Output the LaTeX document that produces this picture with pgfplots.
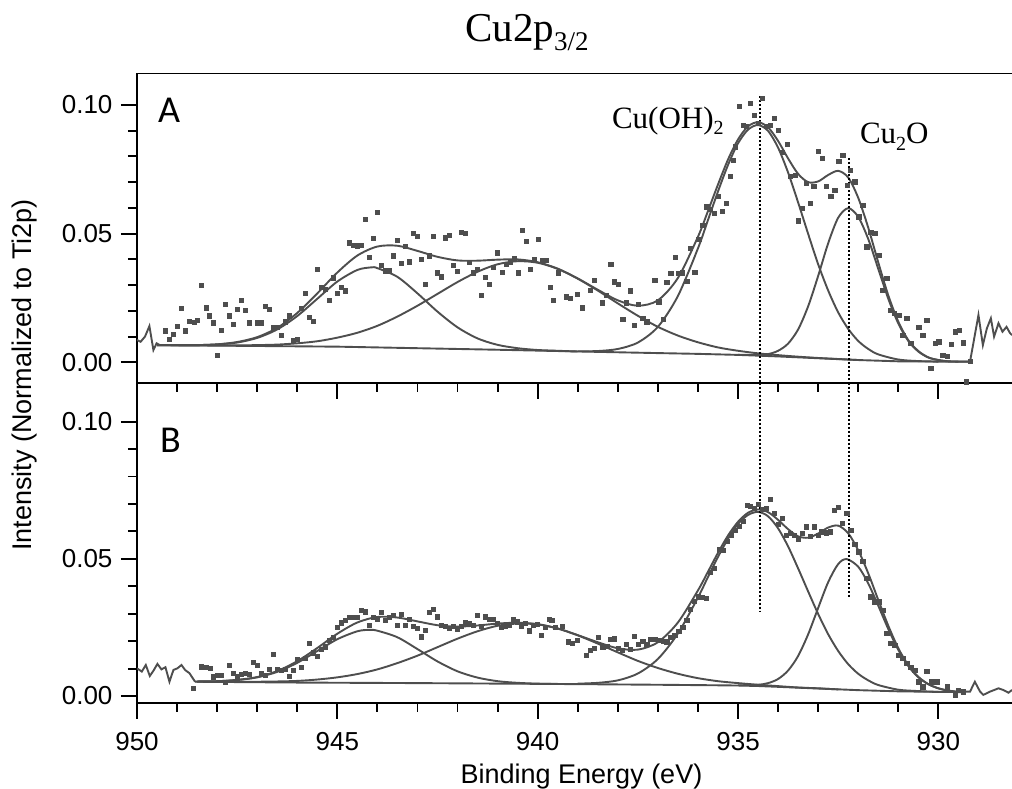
\documentclass[border=0pt]{standalone}
\usepackage{fontspec}
\setmainfont{Liberation Sans}
\newfontfamily\timesf{Liberation Serif}
\newfontfamily\calib{Carlito}
\usepackage{pgfplots}
\pgfplotsset{compat=1.18}
\definecolor{dg}{RGB}{78,78,78}
\begin{document}
\begin{tikzpicture}
\useasboundingbox (0pt,0pt) rectangle (1012pt,789pt);
\pgfplotsset{
  panel/.style={
    scale only axis, width=875pt, x dir=reverse, xmin=928.163, xmax=950,
    axis x line*=bottom, axis y line*=left,
    axis line style={line width=1.9pt, black, -},
    tick align=outside, major tick length=16pt, minor tick length=9pt,
    tick style={line width=1.9pt, black},
    xtick={930,935,940,945,950}, minor x tick num=4,
    ytick={0,0.05,0.1}, minor y tick num=4,
    scaled y ticks=false,
    yticklabel style={/pgf/number format/fixed, /pgf/number format/fixed zerofill, /pgf/number format/precision=2, xshift=-5pt},
    xticklabel style={yshift=-10pt},
    ticklabel style={font=\fontsize{26}{30}\selectfont},
    /pgf/number format/assume math mode=true,
  },
  dat/.style={only marks, mark=square*, mark size=2.1pt, color=dg},
  fit/.style={no marks, line width=1.9pt, color=dg, smooth},
  raw/.style={no marks, line width=1.9pt, color=dg, sharp plot},
  dot/.style={no marks, black, line width=1.9pt, dash pattern=on 2pt off 2pt},
}
% ---------------- Panel A ----------------
\begin{axis}[panel, at={(574.5pt,561pt)}, anchor=center, height=309.4pt,
  ymin=-0.0079, ymax=0.1123, xticklabels={}]
\draw[line width=2.2pt, black] (rel axis cs:0,1) -- (rel axis cs:1,1);
\addplot[raw] coordinates {(950,0.0087)(949.91,0.0080)(949.80,0.0100)(949.69,0.0141)(949.59,0.0048)(949.51,0.0074)(949.43,0.0067)};
\addplot[raw] coordinates {(929.21,0.0003)(929.00,0.0184)(928.89,0.0067)(928.79,0.0132)(928.69,0.0171)(928.61,0.0100)(928.50,0.0152)(928.40,0.0119)(928.30,0.0138)(928.21,0.0113)(928.163,0.0106)};
\addplot[raw] coordinates {(949.5,0.0067)(947,0.00636)(945,0.0061)(943,0.0055)(941,0.0049)(939,0.00423)(937,0.0036)(936,0.0033)(935,0.0029)(934.5,0.0026)(934,0.0023)(933,0.0016)(932,0.0009)(931,0.0004)(930,0.0003)(929.21,0.0003)};
\addplot[fit] coordinates {(949.5,0.0067)(949,0.0067)(948.5,0.0067)(948,0.0070)(947.5,0.0077)(947,0.0095)(946.5,0.0128)(946,0.0180)(945.5,0.0247)(945,0.0314)(944.5,0.0359)(944.15,0.0369)(944,0.0366)(943.5,0.0332)(943,0.0268)(942.5,0.0197)(942,0.0136)(941.5,0.0093)(941,0.0068)(940.5,0.0055)(940,0.0048)(939.5,0.0045)(939,0.0042)};
\addplot[fit] coordinates {(949.5,0.0067)(949,0.0066)(948.5,0.0066)(948,0.0066)(947.5,0.0066)(947,0.0067)(946.5,0.0069)(946,0.0074)(945.5,0.0082)(945,0.0096)(944.5,0.0115)(944,0.0142)(943.5,0.0178)(943,0.0220)(942.5,0.0266)(942,0.0312)(941.5,0.0352)(941,0.0381)(940.5,0.0393)(940,0.0387)(939.5,0.0363)(939,0.0325)(938.5,0.0279)(938,0.0229)(937.5,0.0181)(937,0.0138)(936.5,0.0104)(936,0.0078)(935.5,0.0058)(935,0.0045)(934.5,0.0035)(934,0.0028)(933.5,0.0022)(933,0.0017)(932.5,0.0013)(932,0.0009)};
\addplot[fit] coordinates {(939,0.0043)(938.5,0.0044)(938,0.0052)(937.5,0.0077)(937,0.0138)(936.5,0.0258)(936,0.0443)(935.75,0.0553)(935.5,0.0664)(935.25,0.0767)(935,0.0851)(934.75,0.0904)(934.5,0.0922)(934.25,0.0899)(934,0.0834)(933.75,0.0737)(933.5,0.0621)(933.25,0.0499)(933,0.0381)(932.75,0.0279)(932.5,0.0194)(932.25,0.0130)(932,0.0083)(931.75,0.0052)(931.5,0.0031)(931,0.0011)(930.5,0.0005)(930,0.0003)};
\addplot[fit] coordinates {(935,0.0029)(934.5,0.0029)(934.25,0.0032)(934,0.0045)(933.75,0.0073)(933.5,0.0128)(933.25,0.0218)(933,0.0336)(932.75,0.0463)(932.5,0.0562)(932.25,0.0599)(932,0.0565)(931.75,0.0479)(931.5,0.0363)(931.25,0.0247)(931,0.0151)(930.75,0.0083)(930.5,0.0042)(930.25,0.0019)(930,0.0009)(929.75,0.0004)(929.5,0.0003)};
\addplot[fit] coordinates {(949.5,0.0067)(949,0.0067)(948.5,0.0067)(948,0.0070)(947.5,0.0079)(947,0.0098)(946.5,0.0134)(946,0.0192)(945.5,0.0268)(945,0.0349)(944.5,0.0415)(944,0.0450)(943.5,0.0453)(943,0.0433)(942.5,0.0410)(942,0.0396)(941.5,0.0395)(941,0.0399)(940.5,0.0400)(940,0.0389)(939.5,0.0364)(939,0.0326)(938.5,0.0282)(938,0.0241)(937.5,0.0220)(937,0.0241)(936.5,0.0328)(936,0.0488)(935.75,0.0588)(935.5,0.0691)(935.25,0.0788)(935,0.0866)(934.75,0.0917)(934.5,0.0933)(934.25,0.0913)(934,0.0860)(933.75,0.0792)(933.5,0.0732)(933.25,0.0700)(933,0.0703)(932.75,0.0728)(932.5,0.0744)(932.25,0.0718)(932,0.0639)(931.75,0.0523)(931.5,0.0388)(931.25,0.0260)(931,0.0158)(930.75,0.0086)(930.5,0.0044)(930.25,0.0019)(930,0.0009)(929.75,0.0004)(929.5,0.0003)(929.21,0.0003)};
\addplot[dat] coordinates {(949.30,0.0123)(949.20,0.0089)(949.09,0.0109)(948.99,0.0142)(948.89,0.0210)(948.79,0.0123)(948.69,0.0161)(948.58,0.0155)(948.49,0.0164)(948.39,0.0300)(948.28,0.0212)(948.19,0.0181)(948.09,0.0154)(947.99,0.0028)(947.90,0.0126)(947.80,0.0227)(947.70,0.0181)(947.60,0.0148)(947.50,0.0206)(947.40,0.0240)(947.30,0.0202)(947.20,0.0154)(947.00,0.0154)(946.90,0.0154)(946.80,0.0219)(946.70,0.0206)(946.60,0.0138)(946.50,0.0138)(946.40,0.0104)(946.30,0.0158)(946.20,0.0181)(946.10,0.0087)(946.00,0.0089)(945.90,0.0210)(945.80,0.0268)(945.70,0.0175)(945.60,0.0161)(945.50,0.0361)(945.40,0.0291)(945.30,0.0284)(945.20,0.0240)(945.10,0.0329)(945.00,0.0268)(944.90,0.0291)(944.80,0.0278)(944.70,0.0465)(944.60,0.0456)(944.50,0.0453)(944.40,0.0456)(944.30,0.0556)(944.20,0.0408)(944.10,0.0482)(944.00,0.0582)(943.90,0.0378)(943.80,0.0356)(943.70,0.0356)(943.60,0.0414)(943.50,0.0475)(943.40,0.0384)(943.30,0.0452)(943.20,0.0391)(943.10,0.0501)(943.00,0.0491)(942.90,0.0400)(942.80,0.0304)(942.70,0.0414)(942.60,0.0491)(942.50,0.0348)(942.40,0.0333)(942.31,0.0484)(942.21,0.0495)(942.11,0.0378)(942.01,0.0355)(941.91,0.0505)(941.81,0.0501)(941.71,0.0388)(941.61,0.0348)(941.51,0.0361)(941.41,0.0261)(941.31,0.0330)(941.21,0.0304)(941.11,0.0369)(941.01,0.0426)(940.89,0.0350)(940.79,0.0382)(940.69,0.0388)(940.59,0.0404)(940.49,0.0348)(940.39,0.0514)(940.29,0.0471)(940.19,0.0362)(940.09,0.0401)(939.99,0.0479)(939.89,0.0397)(939.79,0.0397)(939.69,0.0293)
(939.61,0.0240)(939.49,0.0348)(939.28,0.0255)(939.18,0.0249)(939.01,0.0264)(938.89,0.0212)(938.69,0.0281)(938.59,0.0320)(938.40,0.0232)(938.30,0.0262)(938.18,0.0381)(938.10,0.0313)(937.99,0.0304)(937.88,0.0167)(937.80,0.0232)(937.70,0.0278)(937.60,0.0145)(937.49,0.0225)(937.38,0.0173)(937.28,0.0158)(937.08,0.0319)(936.98,0.0236)(936.86,0.0167)(936.78,0.0312)(936.68,0.0346)(936.57,0.0409)(936.49,0.0346)(936.40,0.0348)(936.28,0.0316)(936.20,0.0443)(936.08,0.0350)(935.98,0.0478)(935.88,0.0534)(935.78,0.0605)(935.70,0.0595)(935.60,0.0579)(935.50,0.0644)(935.40,0.0588)(935.30,0.0618)(935.20,0.0722)(935.12,0.0786)(935.07,0.0838)(934.97,0.0996)(934.87,0.0922)(934.79,0.0916)(934.70,0.1006)(934.60,0.0961)(934.50,0.0929)(934.39,0.1026)(934.29,0.0916)(934.20,0.0922)(934.10,0.0948)(933.99,0.0903)(933.89,0.0815)(933.77,0.0848)(933.69,0.0724)(933.58,0.0728)(933.49,0.0550)(933.39,0.0598)(933.29,0.0696)(933.19,0.0618)(933.11,0.0685)(932.99,0.0819)(932.89,0.0793)(932.79,0.0683)(932.69,0.0644)(932.59,0.0670)(932.49,0.0780)(932.39,0.0806)(932.27,0.0689)(932.21,0.0747)(932.09,0.0702)(931.99,0.0566)(931.89,0.0611)(931.79,0.0449)(931.69,0.0507)(931.59,0.0501)(931.49,0.0417)(931.39,0.0281)(931.29,0.0326)(931.21,0.0203)(931.11,0.0190)(930.99,0.0184)(930.89,0.0106)(930.79,0.0171)(930.69,0.0074)(930.49,0.0136)(930.39,0.0106)(930.29,0.0164)(930.19,-0.0023)(930.08,0.0074)(929.99,0.0080)(929.89,0.0028)(929.79,0.0025)(929.69,0.0071)(929.59,0.0119)(929.49,0.0126)(929.38,0.0076)(929.30,-0.0075)(929.21,0.0003)};
\addplot[dot] coordinates {(934.45,0.1035)(934.45,-0.0079)};
\addplot[dot] coordinates {(932.22,0.0794)(932.22,-0.0079)};
\node[anchor=base west, inner sep=0pt, font=\timesf\fontsize{31}{34}\selectfont] at (axis cs:938.15,0.0907) {Cu(OH)\raisebox{-6pt}{\fontsize{20}{22}\selectfont 2}};
\node[anchor=base west, inner sep=0pt, font=\timesf\fontsize{31}{34}\selectfont] at (axis cs:931.96,0.0852) {Cu\raisebox{-7pt}{\fontsize{20}{22}\selectfont 2}O};
\node[anchor=base west, inner sep=0pt, font=\calib\fontsize{38}{40}\selectfont] at (axis cs:949.48,0.0930) {A};
\end{axis}
% ---------------- Panel B ----------------
\begin{axis}[panel, at={(574.5pt,246.3pt)}, anchor=center, height=320pt,
  ymin=-0.00244, ymax=0.1142]
\addplot[raw] coordinates {(950,0.0101)(949.88,0.0089)(949.78,0.0113)(949.68,0.0073)(949.59,0.0092)(949.49,0.0117)(949.39,0.0097)(949.29,0.0105)(949.19,0.0052)(949.09,0.0095)(948.99,0.0101)(948.89,0.0113)(948.80,0.0095)(948.69,0.0083)(948.55,0.0052)};
\addplot[raw] coordinates {(929.38,0.0016)(929.21,0.0016)(929.09,0.0052)(928.96,0.0016)(928.88,0.0004)(928.71,0.0016)(928.50,0.0028)(928.38,0.0022)(928.25,0.0012)(928.163,0.0022)};
\addplot[raw] coordinates {(948.55,0.0052)(946,0.0049)(943,0.0047)(940,0.00443)(937,0.0041)(935.5,0.0039)(935,0.00382)(934.5,0.00364)(934,0.00334)(933,0.00273)(932,0.00213)(931,0.0017)(930,0.0015)(929.38,0.0014)};
\addplot[fit] coordinates {(948.5,0.0053)(948,0.0054)(947.5,0.0058)(947,0.0068)(946.5,0.0088)(946,0.0121)(945.5,0.0164)(945,0.0207)(944.5,0.0236)(944.2,0.0241)(944,0.0238)(943.5,0.0214)(943,0.0171)(942.5,0.0126)(942,0.0090)(941.5,0.0067)(941,0.0054)(940.5,0.0048)(940,0.0045)(939.5,0.0044)};
\addplot[fit] coordinates {(948.5,0.0052)(948,0.0052)(947.5,0.0052)(947,0.0052)(946.5,0.0053)(946,0.0055)(945.5,0.0060)(945,0.0068)(944.5,0.0080)(944,0.0097)(943.5,0.0120)(943,0.0147)(942.5,0.0178)(942,0.0209)(941.5,0.0236)(941,0.0256)(940.5,0.0264)(940,0.0261)(939.5,0.0246)(939,0.0221)(938.5,0.0191)(938,0.0159)(937.5,0.0128)(937,0.0102)(936.5,0.0081)(936,0.0065)(935.5,0.0054)(935,0.0047)(934.5,0.0041)(934,0.0036)(933.5,0.0031)(933,0.0028)(932.5,0.0024)};
\addplot[fit] coordinates {(939,0.0045)(938.5,0.0048)(938,0.0057)(937.5,0.0082)(937,0.0135)(936.5,0.0228)(936,0.0359)(935.75,0.0434)(935.5,0.0507)(935.25,0.0573)(935,0.0627)(934.75,0.0660)(934.5,0.0671)(934.25,0.0655)(934,0.0611)(933.75,0.0545)(933.5,0.0465)(933.25,0.0381)(933,0.0299)(932.75,0.0225)(932.5,0.0164)(932.25,0.0116)(932,0.0081)(931.75,0.0057)(931.5,0.0040)(931,0.0023)(930.5,0.0018)(930,0.0015)};
\addplot[fit] coordinates {(935,0.0039)(934.5,0.0041)(934.25,0.0047)(934,0.0062)(933.75,0.0093)(933.5,0.0146)(933.25,0.0225)(933,0.0321)(932.75,0.0415)(932.5,0.0481)(932.29,0.0499)(932,0.0471)(931.75,0.0410)(931.5,0.0329)(931.25,0.0244)(931,0.0168)(930.75,0.0109)(930.5,0.0068)(930.25,0.0043)(930,0.0028)(929.75,0.0019)(929.5,0.0015)};
\addplot[fit] coordinates {(948.55,0.0053)(948,0.0054)(947.5,0.0059)(947,0.0069)(946.5,0.0091)(946,0.0127)(945.5,0.0175)(945,0.0227)(944.5,0.0268)(944,0.0288)(943.5,0.0286)(943,0.0272)(942.5,0.0258)(942,0.0253)(941.5,0.0257)(941,0.0264)(940.5,0.0267)(940,0.0262)(939.5,0.0246)(939,0.0222)(938.5,0.0196)(938,0.0174)(937.5,0.0169)(937,0.0196)(936.5,0.0268)(936,0.0385)(935.75,0.0453)(935.5,0.0522)(935.25,0.0585)(935,0.0635)(934.75,0.0668)(934.5,0.0680)(934.25,0.0670)(934,0.0642)(933.75,0.0608)(933.5,0.0582)(933.25,0.0577)(933,0.0592)(932.75,0.0614)(932.5,0.0621)(932.25,0.0593)(932,0.0531)(931.75,0.0447)(931.5,0.0350)(931.25,0.0256)(931,0.0174)(930.75,0.0112)(930.5,0.0070)(930.25,0.0043)(930,0.0028)(929.75,0.0020)(929.5,0.0015)(929.38,0.0014)};
\addplot[dat] coordinates {(948.60,0.0028)(948.39,0.0107)(948.28,0.0105)(948.18,0.0101)(948.09,0.0070)(947.99,0.0077)(947.89,0.0077)(947.79,0.0049)(947.70,0.0113)(947.60,0.0083)(947.50,0.0073)(947.40,0.0080)(947.30,0.0083)(947.20,0.0080)(947.10,0.0122)(947.00,0.0113)(946.90,0.0083)(946.80,0.0077)(946.70,0.0097)(946.60,0.0153)(946.50,0.0097)(946.40,0.0095)(946.30,0.0097)(946.20,0.0073)(946.10,0.0095)(946.00,0.0134)(945.90,0.0105)(945.80,0.0137)(945.70,0.0192)(945.60,0.0158)(945.50,0.0146)(945.40,0.0170)(945.30,0.0180)(945.20,0.0202)(945.10,0.0213)(945.00,0.0250)(944.90,0.0267)(944.80,0.0277)(944.70,0.0287)(944.60,0.0287)(944.50,0.0287)(944.40,0.0314)(944.30,0.0307)(944.20,0.0259)(944.10,0.0286)(944.00,0.0281)(943.90,0.0305)(943.80,0.0277)(943.70,0.0287)(943.60,0.0295)(943.50,0.0259)(943.40,0.0299)(943.30,0.0259)(943.20,0.0280)(943.10,0.0255)(943.00,0.0247)(942.90,0.0216)(942.80,0.0241)(942.70,0.0304)(942.60,0.0316)(942.50,0.0289)(942.40,0.0259)(942.31,0.0253)(942.21,0.0247)(942.11,0.0255)(942.01,0.0243)(941.91,0.0253)(941.81,0.0267)(941.71,0.0265)(941.61,0.0259)(941.51,0.0295)(941.41,0.0255)(941.31,0.0289)(941.21,0.0280)(941.11,0.0280)(941.01,0.0265)(940.91,0.0250)(940.81,0.0253)(940.71,0.0259)(940.61,0.0280)(940.51,0.0271)(940.41,0.0255)(940.31,0.0265)(940.21,0.0238)(940.11,0.0259)(940.01,0.0261)(939.91,0.0222)(939.81,0.0250)(939.71,0.0280)
(939.65,0.0277)(939.57,0.0250)(939.38,0.0253)(939.24,0.0198)(939.13,0.0192)(939.01,0.0204)(938.79,0.0149)(938.69,0.0168)(938.59,0.0174)(938.48,0.0214)(938.38,0.0180)(938.28,0.0182)(938.18,0.0207)(938.10,0.0209)(937.99,0.0174)(937.90,0.0168)(937.80,0.0188)(937.70,0.0170)(937.60,0.0219)(937.49,0.0190)(937.38,0.0201)(937.28,0.0190)(937.18,0.0207)(937.08,0.0207)(936.98,0.0204)(936.86,0.0201)(936.78,0.0198)(936.68,0.0214)(936.58,0.0222)(936.48,0.0235)(936.38,0.0250)(936.28,0.0277)(936.20,0.0316)(936.10,0.0346)(936.00,0.0362)(935.90,0.0360)(935.80,0.0356)(935.70,0.0450)(935.60,0.0465)(935.47,0.0535)(935.38,0.0532)(935.28,0.0563)(935.18,0.0587)(935.08,0.0603)(934.98,0.0620)(934.88,0.0636)(934.78,0.0696)(934.69,0.0693)(934.59,0.0684)(934.49,0.0700)(934.39,0.0681)(934.29,0.0684)(934.20,0.0717)(934.10,0.0666)(934.00,0.0627)(933.90,0.0648)(933.80,0.0587)(933.70,0.0593)(933.60,0.0587)(933.50,0.0571)(933.40,0.0593)(933.30,0.0617)(933.20,0.0583)(933.10,0.0617)(933.00,0.0587)(932.91,0.0599)(932.80,0.0595)(932.71,0.0599)(932.61,0.0676)(932.51,0.0688)(932.41,0.0629)(932.29,0.0666)(932.19,0.0605)(932.09,0.0554)(931.99,0.0526)(931.89,0.0490)(931.79,0.0429)(931.69,0.0362)(931.59,0.0344)(931.49,0.0344)(931.39,0.0314)(931.29,0.0228)(931.19,0.0192)(931.09,0.0186)(930.99,0.0148)(930.89,0.0137)(930.79,0.0119)(930.69,0.0104)(930.59,0.0095)(930.49,0.0052)(930.39,0.0034)(930.29,0.0089)(930.17,0.0052)(930.04,0.0052)(929.79,0.0034)(929.59,0.0004)(929.50,0.0022)(929.38,0.0016)};
\addplot[dot] coordinates {(934.45,0.1142)(934.45,0.0306)};
\addplot[dot] coordinates {(932.22,0.1142)(932.22,0.0361)};
\node[anchor=base west, inner sep=0pt, font=\calib\fontsize{38}{40}\selectfont] at (axis cs:949.43,0.0886) {B};
\end{axis}
\node[anchor=base west, inner sep=0pt, font=\timesf\fontsize{41}{44}\selectfont] at (465pt,747.3pt) {Cu2p\raisebox{-8.5pt}{\fontsize{27}{30}\selectfont 3/2}};
\node[anchor=base, inner sep=0pt, font=\fontsize{27}{30}\selectfont] at (581.5pt,5pt) {Binding Energy (eV)};
\node[rotate=90, anchor=base, inner sep=0pt, font=\fontsize{27}{30}\selectfont] at (31.7pt,414pt) {Intensity (Normalized to Ti2p)};
\end{tikzpicture}
\end{document}
